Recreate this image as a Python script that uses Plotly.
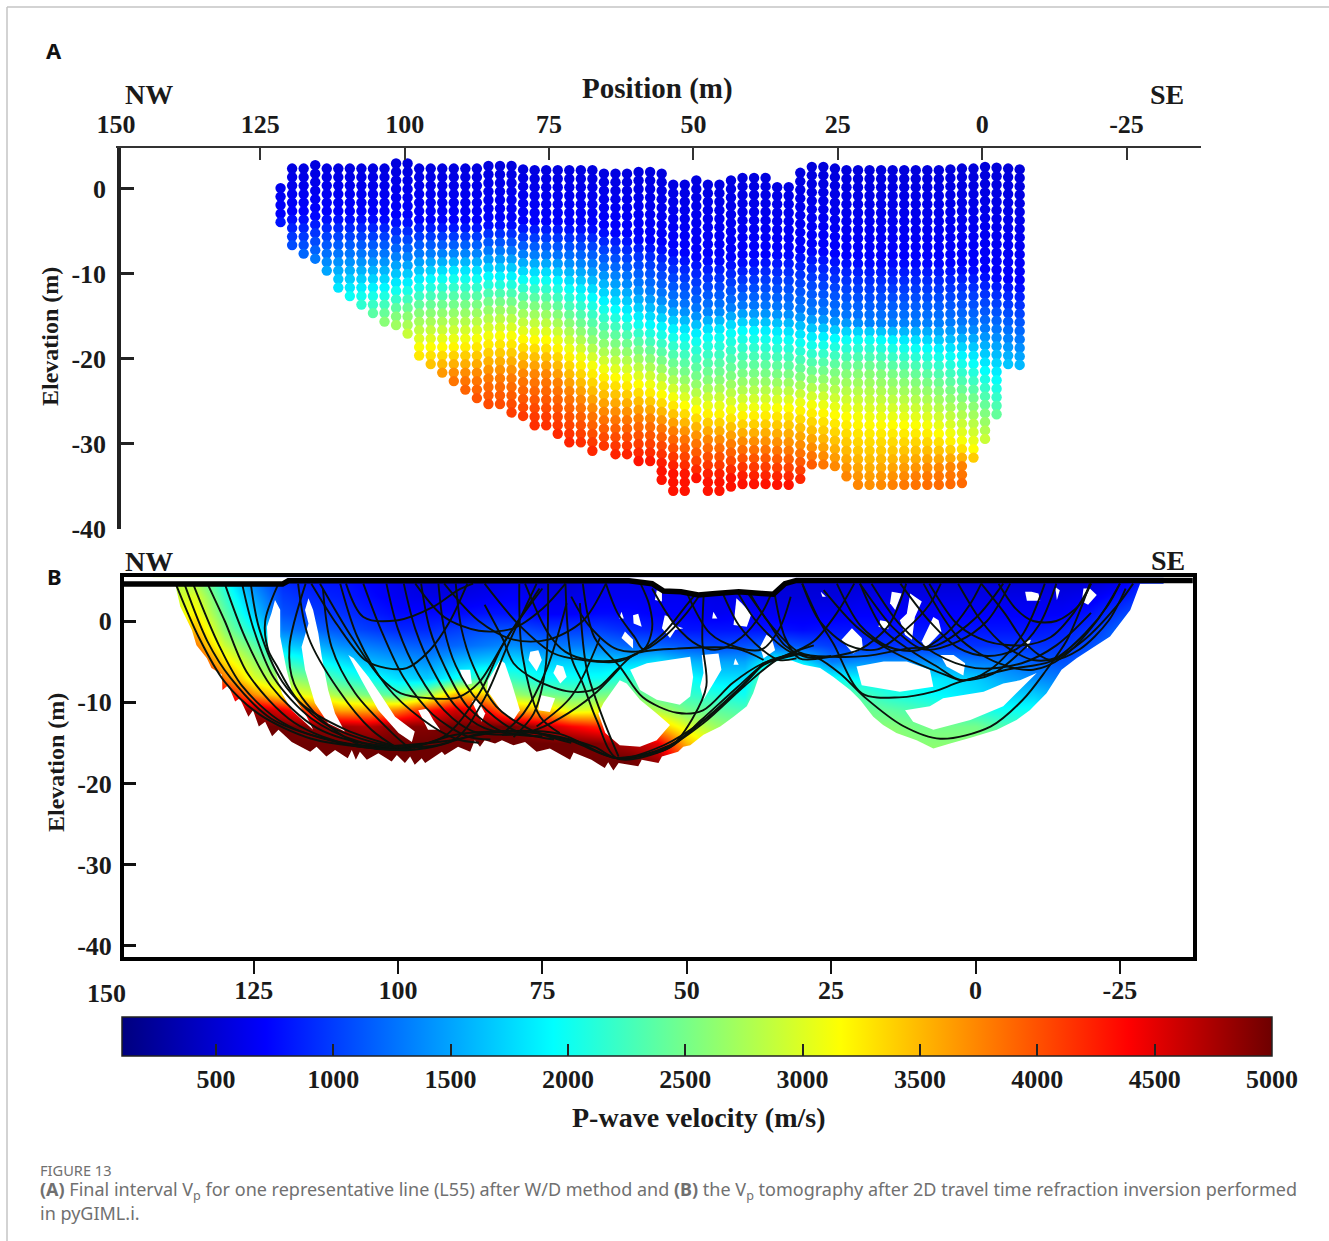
import numpy as np
import plotly.graph_objects as go

W, H = 1329, 1241
SERIF = "Liberation Serif"
SANS = "Noto Sans"

# ---- value scale ----
VP_MIN, VP_MAX = 100, 5000
COLORBAR_TICKS = [500, 1000, 1500, 2000, 2500, 3000, 3500, 4000, 4500, 5000]
JET = [[0, "#00007f"], [0.125, "#0000ff"], [0.375, "#00ffff"], [0.625, "#ffff00"], [0.875, "#ff0000"], [1, "#6e0000"]]

X_TICKS = [150, 125, 100, 75, 50, 25, 0, -25]
X_TICK_TEXT = ["150", "125", "100", "75", "50", "25", "0", "-25"]
Y_TICKS = [0, -10, -20, -30, -40]
Y_TICK_TEXT = ["0", "-10", "-20", "-30", "-40"]

# ---- panel A: picked columns ----
COL_POS_A = [121.5, 119.5, 117.5, 115.5, 113.5, 111.5, 109.5, 107.5, 105.5, 103.5, 101.5, 99.5, 97.5, 95.5, 93.5, 91.5,
             89.5, 87.5, 85.5, 83.5, 81.5, 79.5, 77.5, 75.5, 73.5, 71.5, 69.5, 67.5, 65.5, 63.5, 61.5, 59.5,
             57.5, 55.5, 53.5, 51.5, 49.5, 47.5, 45.5, 43.5, 41.5, 39.5, 37.5, 35.5, 33.5, 31.5, 29.5, 27.5,
             25.5, 23.5, 21.5, 19.5, 17.5, 15.5, 13.5, 11.5, 9.5, 7.5, 5.5, 3.5, 1.5, -0.5, -2.5, -4.5, -6.5]
COL_TOP_A = [0.1, 2.4, 2.4, 2.8, 2.4, 2.4, 2.4, 2.4, 2.4, 2.4, 3.0, 3.0, 2.4, 2.4, 2.4, 2.4,
             2.4, 2.4, 2.7, 2.7, 2.7, 2.3, 2.2, 2.2, 2.2, 2.2, 2.2, 2.2, 1.8, 1.8, 1.8, 2.0,
             2.0, 1.8, 0.5, 0.5, 1.0, 0.5, 0.5, 1.0, 1.3, 1.3, 1.3, 0.2, 0.2, 1.9, 2.6, 2.6,
             2.4, 2.2, 2.2, 2.2, 2.2, 2.2, 2.2, 2.2, 2.2, 2.2, 2.3, 2.4, 2.4, 2.6, 2.5, 2.4, 2.3]
COL_BOTTOM_A = [-4.0, -6.7, -7.6, -8.4, -9.6, -11.7, -12.7, -13.6, -14.6, -15.6, -16.4, -17.4, -19.6, -20.8, -21.7, -22.7,
                -23.6, -24.6, -25.5, -25.5, -26.6, -26.9, -27.9, -27.9, -28.9, -30.0, -30.0, -31.1, -31.1, -32.1, -32.1, -32.9,
                -32.9, -34.2, -35.5, -35.5, -34.9, -35.6, -35.6, -35.0, -34.7, -34.7, -34.7, -35.7, -35.7, -34.1, -33.3, -33.3,
                -33.5, -33.8, -34.8, -34.8, -34.8, -34.8, -34.8, -34.8, -34.8, -34.8, -34.7, -34.7, -32.4, -29.5, -26.6, -20.7, -20.7]
ROW_STEP_A = 1.0

# panel A: elevation of each velocity, read at these positions
ISO_POS_A = [122, 112, 100, 92, 83, 75, 67, 58, 50, 42, 30, 20, 10, 2, -3, -6.5]
ISO_VP_A = [500, 712, 1325, 1937, 2550, 3162, 3775, 4300]
ISO_500_A = [5, 5, 5, 5, 5, 5, 5, 5, 5, 5, 5, 5, 5, 5, 5, 5]
ISO_712_A = [-3, -3, -3.5, -4, -4, -4, -4.5, -6, -8, -8.4, -7, -8.4, -8.4, -9, -10.3, -11]
ISO_1325_A = [-9.5, -8, -8, -7.5, -7.5, -8, -9, -12, -14.6, -14, -14.6, -15.8, -15.8, -16.2, -17, -18]
ISO_1937_A = [-15, -12.5, -11.5, -10, -10.5, -10.5, -13, -16, -17.4, -16.6, -17.8, -17.4, -18.6, -20.1, -22.5, -24]
ISO_2550_A = [-20, -17, -14.6, -14, -13.5, -14, -17.5, -19.5, -22.5, -22, -22, -21.3, -22.9, -24.8, -28, -29]
ISO_3162_A = [-25, -22, -19, -18.4, -17.4, -17.8, -21.3, -23.3, -26, -26.4, -25.6, -27.5, -28, -30.4, -33, -35]
ISO_3775_A = [-30, -27, -24, -22, -22, -22, -26.5, -27, -29.5, -30, -30.7, -36, -33.4, -32.5, -38, -40]
ISO_4300_A = [-36, -33, -30, -28, -29, -30, -32, -32, -34, -34, -35, -42, -42, -42, -44, -46]

# ---- panel B: velocity read on a coarse grid, one list per position ----
GRID_X_B = [140, 135, 130, 125, 120, 115, 110, 105, 100, 95, 90, 85, 80, 75, 70, 65, 60, 55, 50, 45, 40, 35, 30, 25, 20,
            15, 10, 5, 0, -5, -10, -15, -20, -25, -30]
GRID_Y_B = [5, 3, 1, -1, -3, -5, -7, -9, -11, -13, -15, -17, -19]
VP_X140 = [2900, 2900, 3000, 3100, 3300, 3500, 3800, 4200, 4800, 5000, 5000, 5000, 5000]
VP_X135 = [2700, 3000, 3200, 3500, 3800, 4200, 4800, 5000, 5000, 5000, 5000, 5000, 5000]
VP_X130 = [2000, 2200, 2400, 2600, 2900, 3300, 3800, 4500, 4900, 5000, 5000, 5000, 5000]
VP_X125 = [1300, 1500, 1700, 2000, 2400, 2700, 3000, 3700, 4800, 5000, 5000, 5000, 5000]
VP_X120 = [900, 1000, 1100, 1300, 1700, 2200, 2700, 3200, 4500, 5000, 5000, 5000, 5000]
VP_X115 = [800, 900, 1000, 1200, 1600, 2000, 2500, 3000, 4000, 4900, 5000, 5000, 5000]
VP_X110 = [800, 850, 950, 1100, 1400, 1800, 2200, 2700, 3600, 4800, 5000, 5000, 5000]
VP_X105 = [700, 750, 850, 1000, 1300, 1600, 2000, 2500, 3600, 4700, 5000, 5000, 5000]
VP_X100 = [600, 650, 750, 900, 1200, 1500, 1800, 2300, 3800, 4900, 5000, 5000, 5000]
VP_X95 = [500, 600, 750, 900, 1150, 1400, 1700, 2700, 4300, 4900, 5000, 5000, 5000]
VP_X90 = [500, 600, 750, 1000, 1200, 1600, 2000, 3500, 4600, 5000, 5000, 5000, 5000]
VP_X85 = [550, 650, 800, 1100, 1300, 1700, 2300, 3400, 4400, 5000, 5000, 5000, 5000]
VP_X80 = [600, 700, 800, 1100, 1400, 1800, 2200, 2700, 3600, 5000, 5000, 5000, 5000]
VP_X75 = [500, 600, 700, 1000, 1300, 1700, 2000, 2500, 3500, 4700, 5000, 5000, 5000]
VP_X70 = [500, 600, 700, 1000, 1300, 1700, 2000, 2400, 3000, 4400, 5000, 5000, 5000]
VP_X65 = [600, 650, 750, 1000, 1300, 1700, 2000, 2500, 3100, 4200, 4900, 5000, 5000]
VP_X60 = [600, 650, 750, 900, 1200, 1700, 2200, 2600, 3000, 3500, 4700, 5000, 5000]
VP_X55 = [600, 650, 700, 850, 1200, 1800, 2100, 2300, 2800, 3500, 4500, 4800, 5000]
VP_X50 = [600, 650, 700, 800, 1100, 1600, 2000, 2200, 2500, 3000, 3500, 4000, 4500]
VP_X45 = [500, 600, 650, 800, 1050, 1500, 1800, 2100, 2400, 2700, 3000, 3500, 4000]
VP_X40 = [500, 600, 700, 800, 1100, 1500, 1800, 2000, 2300, 2500, 2700, 3000, 3000]
VP_X35 = [500, 550, 650, 800, 1200, 2000, 2700, 3000, 3300, 3300, 3300, 3300, 3300]
VP_X30 = [500, 550, 650, 750, 1100, 1800, 2500, 2700, 2700, 2700, 2700, 2700, 2700]
VP_X25 = [500, 550, 650, 800, 1000, 1300, 2000, 2500, 2700, 2700, 2700, 2700, 2700]
VP_X20 = [500, 600, 700, 800, 950, 1400, 1900, 2300, 2500, 2600, 2700, 2700, 2700]
VP_X15 = [500, 600, 700, 800, 950, 1400, 1900, 2100, 2400, 2600, 2700, 2700, 2700]
VP_X10 = [500, 600, 700, 800, 950, 1400, 1900, 2000, 2300, 2500, 2600, 2700, 2700]
VP_X5 = [500, 600, 700, 800, 950, 1400, 1800, 1900, 2200, 2500, 2600, 2700, 2700]
VP_X0 = [500, 600, 700, 800, 950, 1300, 1700, 1800, 2100, 2500, 2600, 2700, 2700]
VP_XM5 = [500, 600, 700, 800, 950, 1300, 1500, 1700, 2000, 2300, 2500, 2600, 2600]
VP_XM10 = [500, 600, 700, 800, 950, 1150, 1400, 1700, 2000, 2200, 2300, 2300, 2300]
VP_XM15 = [500, 600, 700, 850, 950, 1100, 1300, 1500, 1700, 1800, 1800, 1800, 1800]
VP_XM20 = [500, 650, 800, 950, 1100, 1200, 1300, 1400, 1500, 1500, 1500, 1500, 1500]
VP_XM25 = [600, 800, 1000, 1200, 1300, 1300, 1300, 1300, 1300, 1300, 1300, 1300, 1300]
VP_XM30 = [900, 1000, 1200, 1300, 1300, 1300, 1300, 1300, 1300, 1300, 1300, 1300, 1300]
VP_B = [VP_X140, VP_X135, VP_X130, VP_X125, VP_X120, VP_X115, VP_X110, VP_X105, VP_X100, VP_X95, VP_X90, VP_X85,
        VP_X80, VP_X75, VP_X70, VP_X65, VP_X60, VP_X55, VP_X50, VP_X45, VP_X40, VP_X35, VP_X30, VP_X25, VP_X20,
        VP_X15, VP_X10, VP_X5, VP_X0, VP_XM5, VP_XM10, VP_XM15, VP_XM20, VP_XM25, VP_XM30]

# lower limit of the model (position, elevation)
MODEL_EDGE_B = [(138.6, 4.6), (137.7, 1.8), (135.7, -1.1), (134.9, -3.0), (133.1, -4.6), (132.3, -5.8), (130.5, -6.6), (130.4, -8.5),
    (129.4, -7.9), (128.2, -9.9), (127.4, -9.5), (125.9, -11.8), (125.1, -11.0), (124.1, -13.0), (123.0, -12.4), (121.8, -14.2),
    (120.7, -13.4), (118.4, -14.9), (115.2, -16.1), (114.1, -15.5), (112.4, -16.7), (110.9, -15.9), (108.7, -16.9), (108.0, -15.9),
    (107.3, -17.1), (106.6, -16.1), (105.4, -17.1), (103.4, -16.3), (101.1, -17.3), (100.2, -16.5), (98.8, -17.5), (97.9, -16.7),
    (97.1, -17.7), (95.9, -16.9), (95.3, -17.5), (92.4, -16.1), (91.9, -16.5), (89.6, -15.5), (87.5, -16.1), (86.7, -14.7),
    (85.8, -15.5), (85.0, -14.7), (83.2, -15.1), (82.0, -14.7), (80.0, -15.3), (78.0, -14.9), (76.0, -16.1), (73.7, -15.7),
    (70.2, -17.1), (69.6, -16.2), (66.5, -17.1), (64.2, -18.1), (63.6, -17.4), (62.7, -18.4), (61.8, -17.5), (58.4, -17.9),
    (57.8, -17.1), (54.9, -17.5), (54.3, -16.7), (51.5, -16.1), (50.6, -15.5), (49.4, -15.3), (47.1, -14.0), (44.2, -13.0),
    (41.9, -11.8), (39.6, -10.5), (38.5, -8.9), (37.3, -6.4), (34.7, -5.0), (32.7, -4.8), (32.1, -4.8), (29.8, -5.4), (26.9, -5.8),
    (24.6, -6.9), (21.7, -8.5), (20.0, -9.7), (17.7, -11.8), (16.0, -12.8), (13.7, -13.8), (10.2, -14.7), (7.3, -15.7), (4.4, -15.1),
    (1.0, -14.4), (-3.7, -13.4), (-7.1, -12.2), (-9.4, -11.0), (-12.3, -8.9), (-14.9, -6.0), (-17.5, -4.6), (-23.3, -1.9),
    (-26.8, 1.35), (-28.5, 4.6)]

# ground surface
SURFACE_B = [(147.8, 4.55), (120, 4.55), (119, 4.95), (60, 4.95), (56, 4.6), (54, 3.7), (51, 3.6), (48, 3.2), (45, 3.4), (41, 3.6),
             (37, 3.4), (35, 3.3), (33, 4.6), (31, 5.0), (-38, 5.0)]

# cells without coverage
GAPS_B = [
    [(121.3, 2.6), (121.9, 1.0), (122.7, -0.7), (122.5, -3.2), (121.3, -6.0), (120.1, -8.9), (118.4, -11.0), (114.7, -13.4), (115.8, -11.8), (118.1, -9.3), (119.3, -6.0), (120.4, -1.9), (120.4, 1.4)],
    [(115.5, 2.8), (116.1, 1.35), (115.5, -0.3), (116.7, -3.2), (116.1, -6.0), (114.4, -10.1), (112.1, -12.6), (109.2, -13.6), (110.9, -11.4), (112.1, -8.5), (113.2, -4.4), (113.8, -1.5), (114.7, 1.35)],
    [(108.6, -4.2), (106.3, -7.3), (103.4, -11.0), (99.9, -13.8), (97.6, -14.9), (97.1, -13.6), (100.5, -11.8), (102.8, -9.3), (105.1, -6.9), (107.7, -4.6)],
    [(96.5, -11.0), (94.8, -13.4), (92.7, -13.4), (93.9, -12.2), (95.0, -10.8)],
    [(89.3, -6.0), (88.4, -7.9), (87.2, -7.7), (87.5, -6.0)],
    [(87.2, -9.9), (85.5, -12.4), (84.9, -11.4), (86.4, -9.5)],
    [(82.3, -4.8), (84.4, -7.3), (84.6, -8.5), (81.8, -11.4), (80.0, -12.2), (78.9, -11.0), (80.3, -7.7), (81.5, -5.2)],
    [(77.1, -3.8), (77.4, -4.8), (76.0, -6.2), (75.1, -4.8), (75.7, -3.6)],
    [(72.5, -5.4), (73.1, -6.4), (71.9, -7.7), (70.8, -6.9), (71.4, -5.6)],
    [(75.4, -9.1), (75.7, -11.0), (73.7, -11.2), (72.8, -9.5)],
    [(61.6, -7.3), (64.4, -10.1), (65.3, -11.4), (64.1, -13.8), (61.6, -15.3), (58.1, -15.5), (55.2, -14.7), (52.9, -12.8), (55.2, -11.4), (58.1, -9.7), (60.4, -7.7)],
    [(59.8, -6.0), (56.9, -5.2), (49.4, -4.4), (48.9, -6.9), (49.4, -9.3), (51.2, -10.3), (55.2, -9.7), (58.1, -8.5)],
    [(47.4, -4.2), (44.5, -4.0), (44.0, -6.0), (45.4, -7.7), (47.1, -9.7), (47.7, -8.1), (47.1, -6.4)],
    [(41.6, -4.6), (41.9, -5.4), (41.0, -5.4)],
    [(36.2, -1.7), (37.3, -3.2), (36.7, -4.6), (34.7, -3.6), (35.3, -2.1)],
    [(53.8, 0.7), (54.3, -0.9), (52.9, -2.1), (52.0, -1.1), (50.6, -0.9), (52.3, -0.5), (52.9, 0.5)],
    [(41.4, 2.8), (41.9, -0.5), (39.6, -0.7), (38.8, 0.9), (40.5, 2.2)],
    [(59.3, 0.7), (59.2, -0.3), (57.8, -0.7), (58.4, 0.9)],
    [(61.3, 1.15), (61.7, 0.3), (60.9, 0.3)],
    [(60.7, -1.3), (61.3, -2.1), (59.3, -3.4), (59.3, -2.3)],
    [(55.2, 3.8), (55.5, 2.6), (54.3, 2.4), (54.3, 3.6)],
    [(45.4, 1.15), (45.6, 0.3), (44.7, 0.3)],
    [(21.4, -0.9), (23.2, -2.3), (21.2, -4.0), (19.5, -3.4), (19.7, -2.1)],
    [(14.5, 3.6), (14.8, 2.2), (13.9, 1.35), (12.8, 3.4)],
    [(16.5, 0.1), (16.8, -0.7), (15.1, -1.0), (15.1, -0.1)],
    [(11.3, 3.4), (11.9, 0.9), (13.1, 0.1), (12.2, -1.7), (11.0, -2.3), (10.5, 0.5), (9.3, 2.4), (10.5, 3.0)],
    [(7.3, 0.5), (9.3, -2.5), (8.7, -3.4), (5.9, -1.3), (6.4, 0.1)],
    [(6.1, -4.2), (5.0, -5.6), (2.1, -6.7), (1.8, -5.2), (3.8, -4.2)],
    [(20.6, -5.6), (19.7, -7.9), (13.1, -8.7), (7.3, -8.1), (7.9, -6.0), (11.9, -5.0), (15.9, -5.0)],
    [(12.2, -11.0), (10.8, -12.4), (7.3, -13.4), (0.9, -12.2), (-4.8, -10.5), (-10.6, -6.4), (-7.7, -7.3), (-4.8, -7.7), (-1.4, -8.7), (5.6, -9.5), (7.9, -10.5)],
    [(-8.6, 3.6), (-8.9, 2.5), (-11.2, 2.5), (-10.9, 3.4), (-9.7, 3.6)],
    [(-13.8, 4.2), (-14.1, 2.6), (-14.6, 3.8)],
    [(-18.7, 4.0), (-18.4, 2.4), (-19.5, 2.0), (-21.0, 3.2), (-19.8, 4.0)],
    [(-8.6, -2.5), (-9.0, -3.4), (-9.6, -2.3)],
    [(26.8, 3.6), (26.5, 3.0), (25.9, 3.0)],
]

# ray paths
RAYS_B = [
    [(138.5, 4.6), (134.5, -2), (130, -7.5), (124, -11.5), (115, -14.5), (105, -15.6), (98, -15.9), (90, -14.5), (85, -9.5), (81, -3), (76, 4.6)],
    [(137, 4.6), (133, -2.5), (129, -7), (122, -12), (112, -14.6), (104, -15.4), (92, -14.8), (82, -13.6), (72, -13.9), (62, -16.9), (53, -15.3), (47, -12.2), (40, -7.7), (36.7, -5.4), (30, -4)],
    [(135.5, 4.6), (131, -3), (127, -8), (120, -12.5), (110, -15), (100, -15.6), (92, -14.2), (86, -9), (81.5, -2.5), (75, 4)],
    [(133, 4.6), (130, 0), (126, -6.5), (118, -12.5), (108, -15.3), (98, -15.6), (90, -14), (82, -13.6), (74, -14), (66, -15.5), (62, -16.9), (54, -15.3), (47, -12.2), (40, -7.7), (36.7, -5.2)],
    [(130, 4.6), (126.5, -2), (122, -8), (114, -13.2), (104, -15.3), (94, -15.4), (86, -13.9), (78, -13.6), (70, -14.8), (62, -16.9), (53.5, -15.6), (47, -12.5), (40, -8), (34, -4.6), (28, -3)],
    [(127, 4.6), (125, -1), (121.5, -7), (115, -12), (107, -14.8), (98, -15.8)],
    [(125.5, 4.6), (124, -1), (120, -7.5), (113, -12.5), (105, -14.8), (98, -15.8)],
    [(120.7, 4.6), (123, 0), (122.5, -3.5), (121, -5.5), (117, -10), (109, -13.4), (100, -15.5)],
    [(116, 4.6), (118.8, -3.2), (118, -7.7), (113.2, -12.2), (105.7, -15.5), (97, -15.8)],
    [(117.3, 4.6), (115.5, -2), (110.3, -8.5), (104.6, -13.4), (100, -15.7)],
    [(113, 4), (111.5, -3.2), (107.4, -8.9), (101, -13.8), (97.6, -15.9)],
    [(115, 4.6), (110.5, -0.5), (105.7, -4.8), (102, -5.8), (98.5, -5.8), (94.5, -3.6), (91, 0), (88, 4.6)],
    [(113.5, 4.6), (108, -2), (103, -7), (99.5, -8.9), (94.8, -9.5), (89.6, -9.4), (86, -7.6), (81.5, -2.5), (75.5, 4)],
    [(109, 4.6), (106, 0.5), (100, 0.1), (94, 1.7), (89.6, 3.8), (87, 4.6)],
    [(110, 4.6), (107, -2), (102, -8), (96, -12), (90, -14.5), (86, -15)],
    [(106, 4.6), (103, -1), (99, -7), (94, -11.5), (88, -14.2), (84, -14.6)],
    [(102, 4.6), (100, -1), (96.5, -6.5), (92, -11), (87, -13.6), (80, -14)],
    [(99, 4.6), (97, -1), (94, -6), (90, -10.5), (85, -13.2), (78, -14)],
    [(96, 4.6), (94.5, -1), (92, -5.5), (88, -10.5), (82, -13.6), (75, -14.2)],
    [(93, 4.6), (92, -1), (90, -5.5), (86, -10), (80, -13.4), (73, -14.6)],
    [(90, 4.6), (89, -1), (87, -5.5), (83, -10.5), (77, -13.4), (70, -15)],
    [(97, 4.6), (92, 0.5), (86, -1.2), (80, -0.9), (75, 1.5), (71, 4.6)],
    [(92, 4.6), (86, 0), (80, -2.3), (74, -2.3), (68, 0), (64, 4.6)],
    [(85, 2), (81.8, -2.3), (80, -5.2), (76, -7.3), (70.2, -8.7), (65.6, -8.3), (62.1, -6), (58.7, -4), (51.7, -3.4), (41.4, -3.4), (36.7, -4.8)],
    [(78, 4.6), (74, -1.5), (71, -3.8), (67, -4.8), (62, -4.8), (58.7, -4), (54, -1.5), (50, 2), (47, 4.6)],
    [(85, 4.6), (79, -0.5), (73, -4), (68, -4.8), (62, -5), (58.5, -4)],
    [(74, 4.6), (74.5, -6), (76.5, -11.4), (80, -14.3)],
    [(79, 4.6), (78.5, -4), (75.4, -11.8), (72, -13.8)],
    [(70.8, 2.2), (74.3, -6), (78.3, -11.4), (81.8, -13.8)],
    [(65, -2), (70, -9.3), (76, -13)],
    [(61.5, -5.7), (66, -9), (72, -12), (77, -13.6), (82, -14)],
    [(68, 4.6), (66, -2), (61.5, -5.7), (57.6, -9.4), (51.7, -11.3), (47.2, -11), (42, -7.6), (36.8, -5.2), (33, -4.3), (28, -2.5), (24, 1), (21, 4.6)],
    [(71, 4.6), (70, -4.4), (68, -7.7), (65.6, -12.2), (62.1, -16.9), (53, -15.6), (47.5, -12.2), (41, -8), (36, -5), (31, -4)],
    [(68.5, 2.2), (67.3, -6), (64.4, -12.2), (61.8, -16.7)],
    [(47, 4), (47.3, -2.5), (46.6, -8), (49, -12), (53, -15.6), (62, -16.9)],
    [(70, 3), (67, -0.5), (62, -3.5), (57.5, -3.5), (56, -1), (56.5, 2), (58, 4.6)],
    [(64, 4.6), (62, 1), (59, -2), (57.5, -3.5), (54, -2), (50, 1), (47, 4)],
    [(56, 4), (52, -0.5), (48, -3), (44.5, -3.5), (40.5, -2), (37, 1), (35, 4)],
    [(50, 3.5), (46, -1.5), (41.5, -3.2), (37, -3.5), (34, -1), (32, 3)],
    [(44, 3.8), (41, -0.5), (37, -3.5), (34, -4.8), (31, -4.6)],
    [(40, 4), (36, 0), (33, -3), (29, -4.5), (25, -4.3)],
    [(35, 4.3), (33, -2), (30.5, -4.6), (25, -4.4), (20, -3.5), (15, -0.5), (12, 4.6)],
    [(42, 4.6), (38, 0), (32.1, -3.8), (27.5, -4.5), (23.4, -6.5), (19, -9.5), (12.6, -12.9), (6.1, -14.5), (-2.6, -13), (-8.2, -9.7), (-12.3, -6), (-15.8, -2.4), (-18.1, 1.3), (-19.8, 4.6)],
    [(30, 4.6), (27, 0), (24.6, -2.8), (19.7, -8.9), (13.2, -9.4), (7.3, -8.7), (2.7, -7.5), (-5.4, -6), (-12.9, -5), (-18.7, -2.4), (-24.4, 1.8), (-27.3, 4.6)],
    [(40, 4.6), (36, 0), (30.4, -3.9), (24.6, -4.4), (18.8, -4.3), (11.9, -3.4), (6.7, -3), (-0.2, 0.5), (-4.8, 4.6)],
    [(20, 4.6), (16, -1), (11.3, -3.6), (6.7, -5.6), (2.4, -7.3), (-2.5, -6), (-8.3, -1.5), (-12, 4.6)],
    [(26.3, 3.8), (20.6, -0.7), (14.8, -3.6), (5, -6.7), (2.4, -7.3), (-3, -6.5), (-9, -3)],
    [(13, 4.6), (8, 0), (3, -3.3), (-2, -4.3), (-7, -3.5), (-11, -0.5), (-14, 4.6)],
    [(8, 4.6), (3, -0.5), (-2, -2.5), (-8, -3), (-13, -2), (-17, 1), (-20, 4.6)],
    [(3, 4.6), (-1, 0), (-5, -3), (-10, -4.8), (-14, -4.5), (-19, -1.5), (-23, 2), (-25, 4.6)],
    [(-1, 4.6), (-5, 1), (-9, -3), (-13, -4.8), (-18, -3.5), (-23, 0), (-26, 4)],
    [(-4, 4.6), (-7, 1.5), (-10, 0), (-14, 0), (-18, 2), (-20, 4.6)],
    [(20, 4.6), (14, -1), (9, -3.5), (3, -2.5), (-2, 0), (-6, 4.6)],
    [(24, 4.6), (20, -0.5), (15, -3.2), (10, -3.6), (5, -1.5), (1, 2), (-1, 4.6)],
    [(30, 4.6), (27, 0), (22, -3), (17, -3.5), (12, -1), (8, 2), (6, 4.6)],
    [(18, 4.6), (13, -0.5), (7, -4), (0, -5.8), (-8, -5.2), (-14, -3), (-20, 1)],
    [(9, 4.6), (3, -2), (-4, -5.2), (-10, -6), (-15, -4.5), (-21, 0), (-25, 4.6)],
]

CAPTION_HEAD = "FIGURE 13"
CAPTION_1 = "<b>(A)</b> Final interval V<sub>p</sub> for one representative line (L55) after W/D method and <b>(B)</b> the V<sub>p</sub> tomography after 2D travel time refraction inversion performed"
CAPTION_2 = "in pyGIML.i."


def px(v):
    return v / W


def py(v):
    return 1 - v / H


# ---- panel A dots ----
iso_rows = np.array([ISO_500_A, ISO_712_A, ISO_1325_A, ISO_1937_A, ISO_2550_A, ISO_3162_A, ISO_3775_A, ISO_4300_A])
dot_x, dot_y, dot_v = [], [], []
for pos, top, bottom in zip(COL_POS_A, COL_TOP_A, COL_BOTTOM_A):
    depths = [np.interp(-pos, -np.array(ISO_POS_A), row) for row in iso_rows]
    level = top
    while level >= bottom - 0.01:
        dot_x.append(pos)
        dot_y.append(level)
        dot_v.append(float(np.interp(-level, -np.array(depths), ISO_VP_A)))
        level -= ROW_STEP_A

fig = go.Figure()
fig.add_trace(go.Scatter(x=dot_x, y=dot_y, mode="markers", xaxis="x", yaxis="y", showlegend=False,
                         marker=dict(size=10.4, color=dot_v, coloraxis="coloraxis", line=dict(width=0))))

# ---- panel B ----
fig.add_trace(go.Heatmap(x=GRID_X_B, y=GRID_Y_B, z=np.array(VP_B).T.tolist(), coloraxis="coloraxis", zsmooth="best",
                         xaxis="x2", yaxis="y2", showscale=False))

edge_x = [p[0] for p in MODEL_EDGE_B] + [-34, -34, 146, 146]
edge_y = [p[1] for p in MODEL_EDGE_B] + [4.6, -24, -24, 4.6]
fig.add_trace(go.Scatter(x=edge_x, y=edge_y, fill="toself", fillcolor="white", mode="none", xaxis="x2", yaxis="y2", showlegend=False))
for gap in GAPS_B:
    fig.add_trace(go.Scatter(x=[p[0] for p in gap], y=[p[1] for p in gap], fill="toself", fillcolor="white", mode="none",
                             xaxis="x2", yaxis="y2", showlegend=False))
for ray in RAYS_B:
    fig.add_trace(go.Scatter(x=[p[0] for p in ray], y=[p[1] for p in ray], mode="lines", xaxis="x2", yaxis="y2", showlegend=False,
                             line=dict(color="#0a120c", width=1.9, shape="spline", smoothing=0.9)))
sky_x = [p[0] for p in SURFACE_B] + [-38, 147.8]
sky_y = [p[1] for p in SURFACE_B] + [6, 6]
fig.add_trace(go.Scatter(x=sky_x, y=sky_y, fill="toself", fillcolor="white", mode="none", xaxis="x2", yaxis="y2", showlegend=False))
fig.add_trace(go.Scatter(x=[p[0] for p in SURFACE_B], y=[p[1] for p in SURFACE_B], mode="lines", xaxis="x2", yaxis="y2", showlegend=False,
                         line=dict(color="black", width=5.5)))

tick_font = dict(family=SERIF, size=26, color="#1a1a1a", weight="bold")


def note(text, x, y, size, family=SERIF, color="#1a1a1a", anchor="center", angle=0, bold=True):
    font = dict(family=family, size=size, color=color)
    if bold:
        font["weight"] = "bold"
    return dict(text=text, xref="paper", yref="paper", x=px(x), y=py(y), showarrow=False, xanchor=anchor, yanchor="middle",
                font=font, textangle=angle, align="left")


annotations = [
    note("A", 54, 50, 22, family=SANS, color="#111"),
    note("B", 54, 576, 22, family=SANS, color="#111"),
    note("Position (m)", 657, 89, 29),
    note("NW", 149, 95, 28),
    note("SE", 1167, 95, 28),
    note("Elevation (m)", 50, 337, 24, angle=-90),
    note("NW", 149, 561, 28),
    note("SE", 1168, 560, 28),
    note("Elevation (m)", 56, 763, 24, angle=-90),
    note("150", 106, 993, 26),
    note("P-wave velocity (m/s)", 698, 1117, 28),
    note(CAPTION_HEAD, 38, 1170, 14.6, family=SANS, color="#707070", anchor="left", bold=False),
    note(CAPTION_1, 38, 1190, 18, family=SANS, color="#707070", anchor="left", bold=False),
    note(CAPTION_2, 38, 1213, 18, family=SANS, color="#707070", anchor="left", bold=False),
]

fig.update_layout(
    width=W, height=H, margin=dict(l=0, r=0, t=0, b=0, autoexpand=False), paper_bgcolor="white", plot_bgcolor="white",
    showlegend=False, annotations=annotations,
    shapes=[
        dict(type="line", xref="paper", yref="paper", x0=px(7), x1=1, y0=py(7), y1=py(7), line=dict(color="#c4c4c4", width=1.5)),
        dict(type="line", xref="paper", yref="paper", x0=px(7), x1=px(7), y0=py(7), y1=0, line=dict(color="#c4c4c4", width=1.5)),
    ],
    coloraxis=dict(
        cmin=VP_MIN, cmax=VP_MAX, colorscale=JET,
        colorbar=dict(orientation="h", xref="paper", yref="paper", x=px((122 + 1272) / 2), xanchor="center", y=py(1017), yanchor="top",
                      lenmode="pixels", len=1150, thickness=39, thicknessmode="pixels", outlinecolor="#222", outlinewidth=1.5,
                      tickmode="array", tickvals=COLORBAR_TICKS, ticks="inside", ticklen=12, tickwidth=1.5, tickcolor="#222",
                      tickfont=tick_font, xpad=0, ypad=0),
    ),
    xaxis=dict(domain=[px(116), px(1201)], range=[150, -37.9], anchor="y", side="top", showgrid=False, zeroline=False, showline=True,
               linecolor="#333", linewidth=2, tickmode="array", tickvals=X_TICKS, ticktext=X_TICK_TEXT, ticks="inside", ticklen=12, tickwidth=2, tickcolor="#333",
               tickfont=tick_font, ticklabelstandoff=3),
    yaxis=dict(domain=[py(529), py(148)], range=[-40, 4.82], anchor="free", position=px(119), showgrid=False, zeroline=False, showline=True,
               linecolor="#222", linewidth=3.5, tickmode="array", tickvals=Y_TICKS, ticktext=Y_TICK_TEXT, ticks="inside", ticklen=13, tickwidth=3, tickcolor="#222",
               tickfont=tick_font, ticklabelstandoff=6),
    xaxis2=dict(domain=[px(123.75), px(1192.75)], range=[147.49, -37.62], anchor="y2", showgrid=False, zeroline=False, showline=True, mirror=True,
                linecolor="black", linewidth=3.5, tickmode="array", tickvals=X_TICKS[1:], ticktext=X_TICK_TEXT[1:], ticks="outside", ticklen=13, tickwidth=2, tickcolor="#111",
                tickfont=tick_font, ticklabelstandoff=-6),
    yaxis2=dict(domain=[py(957.25), py(577.25)], range=[-41.41, 5.39], anchor="x2", showgrid=False, zeroline=False, showline=True, mirror=True,
                linecolor="black", linewidth=3.5, tickmode="array", tickvals=Y_TICKS, ticktext=Y_TICK_TEXT, ticks="inside", ticklen=12, tickwidth=2.5, tickcolor="#111",
                tickfont=tick_font, ticklabelstandoff=3),
)

fig.write_html("out.html", config={"displayModeBar": False},
               post_script="document.body.style.margin='0';document.body.style.overflow='hidden';")
